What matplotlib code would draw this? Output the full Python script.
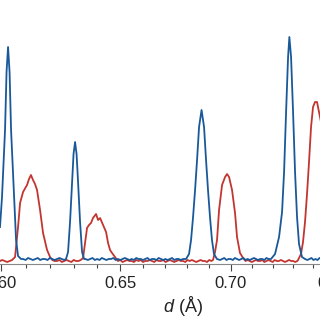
import numpy as np
import matplotlib
matplotlib.use("Agg")
import matplotlib.pyplot as plt
from matplotlib.ticker import FixedLocator, FixedFormatter, NullFormatter

plt.rcParams['font.family'] = ['Liberation Sans', 'DejaVu Sans']
plt.rcParams['mathtext.fontset'] = 'custom'
plt.rcParams['mathtext.it'] = 'Liberation Sans:italic'
plt.rcParams['mathtext.rm'] = 'Liberation Sans'

# blue pattern: d spacing (A) and intensity (arb. units)
blue_d = [
    0.59960, 0.60041, 0.60163, 0.60224, 0.60285, 0.60346, 0.60407, 0.60529, 0.60610, 0.60691, 0.60813,
    0.609, 0.610, 0.611, 0.612, 0.613, 0.614, 0.615, 0.616, 0.617, 0.618, 0.619, 0.620, 0.621, 0.622,
    0.623, 0.624, 0.625, 0.626,
    0.62677, 0.62762, 0.62846, 0.62931, 0.62994, 0.63058, 0.63122, 0.63185, 0.63270, 0.63355, 0.63440,
    0.635, 0.636, 0.637, 0.638, 0.639, 0.640, 0.641, 0.642, 0.643, 0.644, 0.645, 0.646, 0.647, 0.648,
    0.649, 0.650, 0.651, 0.652, 0.653, 0.654, 0.655, 0.656, 0.657, 0.658, 0.659, 0.660, 0.661, 0.662,
    0.663, 0.664, 0.665, 0.666, 0.667, 0.668, 0.669, 0.670, 0.671, 0.672, 0.673, 0.674, 0.675, 0.676,
    0.677, 0.678,
    0.67934, 0.68071, 0.68163, 0.68255, 0.68347, 0.68438, 0.68530, 0.68645, 0.68760, 0.68852, 0.68943,
    0.69035, 0.69127, 0.69220, 0.69359,
    0.695, 0.696, 0.697, 0.698, 0.699, 0.700, 0.701, 0.702, 0.703, 0.704, 0.705, 0.706, 0.707, 0.708,
    0.709, 0.710, 0.711, 0.712, 0.713, 0.714, 0.715, 0.716, 0.717, 0.718,
    0.71920, 0.72115, 0.72310, 0.72456, 0.72554, 0.72652, 0.72749, 0.72812, 0.72895, 0.72993, 0.73090,
    0.73188, 0.73285, 0.73432, 0.73580,
    0.737, 0.738, 0.739, 0.740, 0.741, 0.742, 0.743, 0.744,
]
blue_i = [
    35, 65, 132, 190, 215, 190, 132, 65, 22, 6, 3,
    3, 2, 4, 3, 2, 3, 4, 2, 3, 3, 2, 4, 3, 2, 3, 4, 3, 2,
    3, 10, 40, 80, 108, 120, 108, 80, 40, 10, 3,
    3, 2, 3, 4, 2, 3, 2, 4, 3, 2, 3, 3, 4, 2, 3, 2, 3, 4, 3, 2, 3, 2,
    4, 3, 3, 2, 3, 4, 2, 3, 3, 2, 4, 3, 2, 3, 2, 3, 4, 2, 3, 3, 2, 3,
    3, 8, 22, 45, 72, 102, 135, 152, 135, 102, 72, 45, 22, 8, 3,
    2, 3, 4, 2, 3, 3, 2, 4, 3, 2, 3, 4, 2, 3, 2, 3, 4, 3, 2, 3, 3, 2, 4, 3,
    3, 8, 25, 50, 90, 150, 205, 225, 205, 150, 90, 45, 18, 5, 3,
    2, 3, 4, 2, 3, 2, 4, 3,
]

# red pattern
red_d = [
    0.5996, 0.6005, 0.6015, 0.6025, 0.6035, 0.6045,
    0.60569, 0.60691, 0.60773, 0.60895, 0.61057, 0.61139, 0.61220, 0.61303, 0.61386, 0.61469,
    0.61594, 0.61718, 0.61884, 0.62009,
    0.621, 0.622, 0.623, 0.624, 0.625, 0.626, 0.627, 0.628, 0.629, 0.630, 0.631, 0.632, 0.633,
    0.63397, 0.63482, 0.63567, 0.63651, 0.63736, 0.63822, 0.63952, 0.64038, 0.64125, 0.64254,
    0.64384, 0.64470, 0.64556, 0.64643, 0.64772,
    0.649, 0.650, 0.651, 0.652, 0.653, 0.654, 0.655, 0.656, 0.657, 0.658, 0.659, 0.660, 0.661, 0.662,
    0.663, 0.664, 0.665, 0.666, 0.667, 0.668, 0.669, 0.670, 0.671, 0.672, 0.673, 0.674, 0.675, 0.676,
    0.677, 0.678, 0.679, 0.680, 0.681, 0.682, 0.683, 0.684, 0.685, 0.686, 0.687, 0.688, 0.689, 0.690,
    0.691,
    0.69175, 0.69268, 0.69362, 0.69456, 0.69596, 0.69737, 0.69830, 0.69924, 0.70064, 0.70205,
    0.70299, 0.70439, 0.70585,
    0.707, 0.708, 0.709, 0.710, 0.711, 0.712, 0.713, 0.714, 0.715, 0.716, 0.717, 0.718, 0.719, 0.720,
    0.721, 0.722, 0.723, 0.724, 0.725, 0.726, 0.727, 0.728, 0.729, 0.730, 0.731, 0.732,
    0.73237, 0.73383, 0.73482, 0.73581, 0.73680, 0.73779, 0.73879, 0.73978, 0.74077, 0.74176,
    0.74275, 0.74374,
]
red_i = [
    1, 2, 1, 0, 1, 2,
    5, 35, 59, 70, 77, 83, 87, 82, 78, 72, 52, 29, 12, 5,
    2, 1, 1, 2, 0, 1, 2, 1, 0, 2, 1, 1, 2,
    4, 19, 34, 37, 39, 44, 48, 42, 44, 37, 30, 19, 12, 9, 5,
    1, 2, 0, 1, 2, 1, 1, 0, 2, 1, 2, 0, 1, 1, 2, 1, 0, 2, 1, 1, 2, 0,
    1, 2, 1, 0, 1, 2, 1, 1, 0, 2, 1, 2, 1, 0, 1, 2, 1, 1, 0, 2, 1,
    2, 10, 22, 52, 77, 85, 88, 85, 72, 49, 25, 9, 4,
    1, 2, 1, 0, 1, 2, 1, 1, 2, 0, 1, 2, 1, 0, 2, 1, 1, 2, 1, 0, 1, 2, 1, 1, 0, 1,
    2, 8, 20, 40, 68, 100, 135, 155, 160, 160, 150, 140,
]

major_ticks = [0.60, 0.65, 0.70, 0.75]
major_labels = ["0.60", "0.65", "0.70", "0.75"]
minor_ticks = [0.61, 0.62, 0.63, 0.64, 0.66, 0.67, 0.68, 0.69, 0.71, 0.72, 0.73, 0.74]

fig = plt.figure(figsize=(3.2, 3.2), dpi=100)
# the axes run past the right edge of the figure, as in the cropped original
ax = fig.add_axes([0.0, 0.175, 1.1, 0.825])

ax.plot(red_d, red_i, color='#c23530', lw=1.3)
ax.plot(blue_d, blue_i, color='#19599a', lw=1.3)

ax.set_xscale('log')
ax.set_xlim(0.59960, 0.75938)
ax.set_ylim(-2, 262)

ax.xaxis.set_major_locator(FixedLocator(major_ticks))
ax.xaxis.set_major_formatter(FixedFormatter(major_labels))
ax.xaxis.set_minor_locator(FixedLocator(minor_ticks))
ax.xaxis.set_minor_formatter(NullFormatter())

for s in ['top', 'left', 'right']:
    ax.spines[s].set_visible(False)
ax.spines['bottom'].set_color('#888888')
ax.spines['bottom'].set_linewidth(0.8)
ax.set_yticks([])

ax.tick_params(axis='x', which='major', direction='out', length=5, width=0.8,
               color='#444444', labelsize=12, labelcolor='#222222', pad=3.5)
ax.tick_params(axis='x', which='minor', direction='out', length=3, width=0.8, color='#444444')

ax.set_xlabel("$d$ (Å)", fontsize=13, color='#222222')
ax.xaxis.set_label_coords(0.5185, -0.115)

fig.savefig("out.png", dpi=100)
